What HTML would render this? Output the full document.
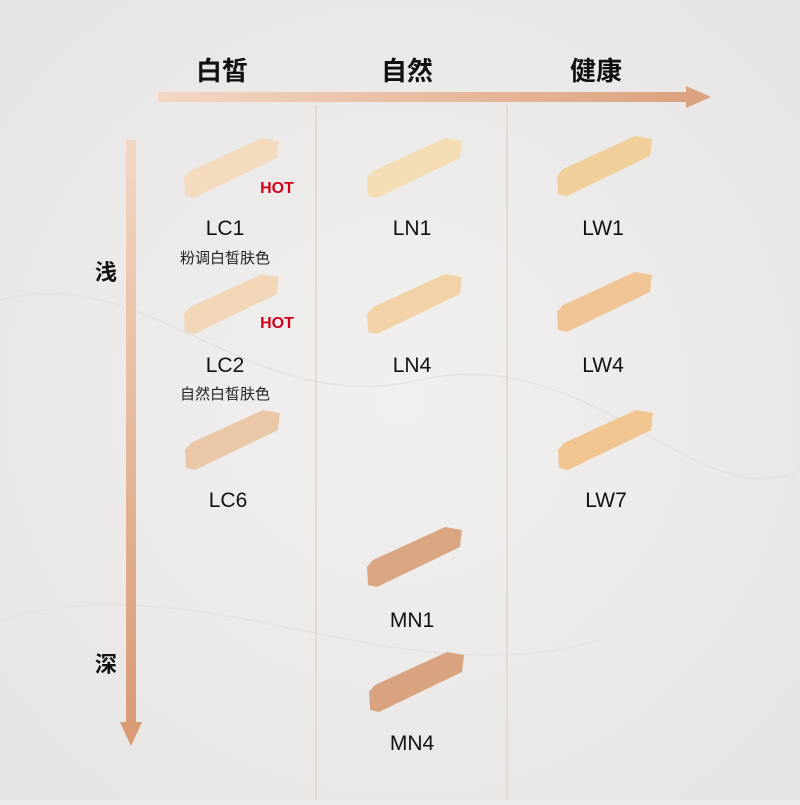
<!DOCTYPE html>
<html><head><meta charset="utf-8"><style>
body{margin:0;width:800px;height:800px;overflow:hidden;background:#ecebea}
</style></head><body>
<svg width="800" height="800" xmlns="http://www.w3.org/2000/svg" font-family="Liberation Sans, Noto Sans CJK SC, sans-serif">
<defs>
<linearGradient id="h" x1="0" x2="1"><stop offset="0" stop-color="#f3d7c4"/><stop offset="1" stop-color="#dca27f"/></linearGradient>
<linearGradient id="v" x1="0" x2="0" y1="0" y2="1"><stop offset="0" stop-color="#f3d7c4"/><stop offset="1" stop-color="#d99a74"/></linearGradient>
<radialGradient id="bg" cx="0.5" cy="0.5" r="0.7"><stop offset="0" stop-color="#f1f0ef"/><stop offset="1" stop-color="#e6e5e4"/></radialGradient>
<path id="s" d="M0,40 L6,33 L78,0 L95,3 L93,20 L10,60 L1,58 Z"/>
</defs>
<rect width="800" height="800" fill="url(#bg)"/>
<path d="M0,300 C150,260 250,420 420,380 S700,520 800,470" stroke="#e3e2e1" stroke-width="1.5" fill="none"/>
<path d="M0,620 C200,560 400,700 600,640" stroke="#e4e3e2" stroke-width="1.5" fill="none"/>
<line x1="316" y1="105" x2="316" y2="800" stroke="#e6d3c6" stroke-width="1.5"/>
<line x1="507" y1="105" x2="507" y2="800" stroke="#e6d3c6" stroke-width="1.5"/>
<rect x="158" y="92" width="532" height="10" fill="url(#h)"/>
<polygon points="686,86 711,97 686,108" fill="#dca27f"/>
<rect x="126" y="140" width="10" height="586" fill="url(#v)"/>
<polygon points="120,722 131,746 142,722" fill="#d99a74"/>
<g font-size="26" font-weight="bold" fill="#111" text-anchor="middle">
<text x="222" y="80">白皙</text><text x="407" y="80">自然</text><text x="596" y="80">健康</text>
<text x="106" y="280" font-size="22">浅</text><text x="106" y="672" font-size="22">深</text>
</g>
<use href="#s" x="184" y="138" fill="#f4dabf"/>
<use href="#s" x="184" y="274" fill="#f2d6b8"/>
<use href="#s" x="185" y="410" fill="#eac7a6"/>
<use href="#s" x="367" y="138" fill="#f4dcb4"/>
<use href="#s" x="367" y="274" fill="#f2d2a7"/>
<use href="#s" x="367" y="527" fill="#daa682"/>
<use href="#s" x="369" y="652" fill="#d8a37e"/>
<use href="#s" x="557" y="136" fill="#f1cf9b"/>
<use href="#s" x="557" y="272" fill="#f0c494"/>
<use href="#s" x="558" y="410" fill="#f1c590"/>
<g font-size="21" fill="#111" text-anchor="middle">
<text x="225" y="235">LC1</text><text x="225" y="372">LC2</text><text x="228" y="507">LC6</text>
<text x="412" y="235">LN1</text><text x="412" y="372">LN4</text>
<text x="412" y="627">MN1</text><text x="412" y="750">MN4</text>
<text x="603" y="235">LW1</text><text x="603" y="372">LW4</text><text x="606" y="507">LW7</text>
</g>
<g font-size="15" fill="#222" text-anchor="middle">
<text x="225" y="263">粉调白皙肤色</text><text x="225" y="399">自然白皙肤色</text>
</g>
<g font-size="16" font-weight="bold" fill="#d0021b" text-anchor="middle">
<text x="277" y="193">HOT</text><text x="277" y="328">HOT</text>
</g>
</svg>
</body></html>
